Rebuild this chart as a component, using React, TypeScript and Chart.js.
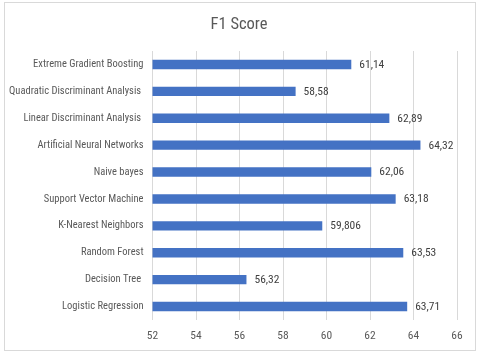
import React, { useEffect, useRef } from "react";
import { Chart, registerables } from "chart.js";

Chart.register(...registerables);

const chartTitle = "F1 Score";
const categories = [
  "Extreme Gradient Boosting",
  "Quadratic Discriminant Analysis ",
  "Linear Discriminant Analysis ",
  "Artificial Neural Networks",
  "Naive bayes",
  "Support Vector Machine",
  "K-Nearest Neighbors",
  "Random Forest",
  "Decision Tree ",
  "Logistic Regression",
];
const f1Scores = [61.14, 58.58, 62.89, 64.32, 62.06, 63.18, 59.806, 63.53, 56.32, 63.71];
const f1Labels = ["61,14", "58,58", "62,89", "64,32", "62,06", "63,18", "59,806", "63,53", "56,32", "63,71"];
const xMin = 52;
const xMax = 66;
const xStep = 2;

const FONT = '"Roboto Condensed", Roboto, sans-serif';

export default function App() {
  const ref = useRef<HTMLCanvasElement | null>(null);

  useEffect(() => {
    if (!ref.current) return;
    const labelPlugin = {
      id: "valueLabels",
      afterDatasetsDraw(chart: any) {
        const ctx = chart.ctx;
        const meta = chart.getDatasetMeta(0);
        ctx.save();
        ctx.font = `11.5px ${FONT}`;
        ctx.fillStyle = "#404040";
        ctx.textAlign = "left";
        ctx.textBaseline = "middle";
        meta.data.forEach((el: any, i: number) => {
          ctx.fillText(f1Labels[i], el.x + 8, el.y + 0.5);
        });
        ctx.restore();
      },
    };
    const titlePlugin = {
      id: "titleText",
      afterDraw(chart: any) {
        const ctx = chart.ctx;
        ctx.save();
        ctx.font = `16.5px ${FONT}`;
        ctx.fillStyle = "#595959";
        ctx.textAlign = "center";
        ctx.textBaseline = "middle";
        ctx.fillText(chartTitle, 239, 25);
        ctx.restore();
      },
    };
    const chart = new Chart(ref.current, {
      type: "bar",
      data: {
        labels: categories,
        datasets: [
          {
            data: f1Scores,
            backgroundColor: "#4472C4",
            borderWidth: 0,
            barPercentage: 0.35,
            categoryPercentage: 1,
          },
        ],
      },
      options: {
        indexAxis: "y",
        responsive: false,
        animation: false,
        layout: { padding: { top: 51, left: 0, right: 23, bottom: 0 } },
        plugins: {
          legend: { display: false },
          title: { display: false },
          tooltip: { enabled: false },
        },
        scales: {
          x: {
            min: xMin,
            max: xMax,
            ticks: {
              stepSize: xStep,
              color: "#595959",
              font: { size: 11.5, family: FONT },
              padding: 9,
            },
            grid: { color: "#d9d9d9", drawTicks: false },
            border: { display: false },
            afterFit(scale: any) {
              scale.height = 34;
            },
          },
          y: {
            ticks: {
              color: "#595959",
              font: { size: 10.5, family: FONT },
              padding: 9,
            },
            grid: { display: false, drawTicks: false },
            border: { display: false },
            afterFit(scale: any) {
              scale.width = 152.5;
            },
          },
        },
      },
      plugins: [labelPlugin, titlePlugin],
    });
    return () => chart.destroy();
  }, []);

  return (
    <div style={{ position: "absolute", left: 0, top: 0, width: 480, height: 354, background: "#fff" }}>
      <div
        style={{
          position: "absolute",
          left: 4,
          top: 2,
          width: 470,
          height: 347,
          border: "1px solid #d9d9d9",
        }}
      />
      <canvas ref={ref} width={480} height={354} style={{ position: "absolute", left: 0, top: 0 }} />
    </div>
  );
}
